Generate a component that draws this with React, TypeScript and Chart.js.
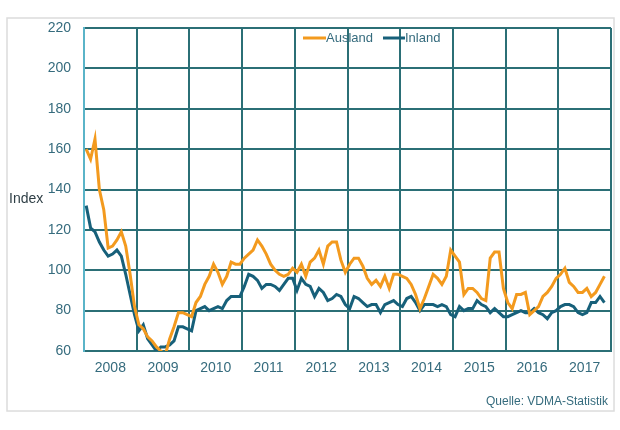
import React, { useEffect, useRef } from "react";
import { Chart, registerables } from "chart.js";

Chart.register(...registerables);

const years = ["2008", "2009", "2010", "2011", "2012", "2013", "2014", "2015", "2016", "2017"];

// monthly index values, Jan 2008 .. Nov 2017
const ausland = [
  160, 155, 165, 140, 130, 111, 112, 115, 119, 112, 98, 82,
  73, 71, 67, 65, 62, 60, 58, 66, 72, 79, 79, 78,
  77, 84, 87, 93, 97, 103, 99, 93, 97, 104, 103, 103,
  106, 108, 110, 115, 112, 108, 103, 100, 98, 97, 98, 101,
  99, 103, 97, 104, 106, 110, 103, 112, 114, 114, 105, 99,
  103, 106, 106, 102, 96, 93, 95, 92, 97, 91, 98, 98,
  97, 96, 93, 88, 81, 86, 92, 98, 96, 93, 97, 110,
  107, 104, 88, 91, 91, 89, 86, 85, 106, 109, 109, 91,
  84, 81, 88, 88, 89, 78, 80, 82, 87, 89, 92, 96,
  98, 101, 94, 92, 89, 89, 91, 87, 89, 93, 97,
];

const inland = [
  132, 121, 119, 114, 110, 107, 108, 110, 107, 98, 88, 78,
  70, 73, 66, 63, 60, 62, 62, 63, 65, 72, 72, 71,
  70, 80, 81, 82, 80, 81, 82, 81, 85, 87, 87, 87,
  92, 98, 97, 95, 91, 93, 93, 92, 90, 93, 96, 96,
  90, 96, 93, 92, 87, 91, 89, 85, 86, 88, 87, 83,
  81, 87, 86, 84, 82, 83, 83, 79, 83, 84, 85, 83,
  82, 86, 87, 84, 80, 83, 83, 83, 82, 83, 82, 78,
  77, 82, 80, 81, 81, 85, 83, 82, 79, 81, 79, 77,
  77, 78, 79, 80, 79, 79, 81, 79, 78, 76, 79, 80,
  82, 83, 83, 82, 79, 78, 79, 84, 84, 87, 84,
];

const seriesNames = ["Ausland", "Inland"];
const yMin = 60;
const yMax = 220;
const yStep = 20;
const yTitle = "Index";
const sourceText = "Quelle: VDMA-Statistik";

const ORANGE = "#f39a1e";
const DARKTEAL = "#17607a";
const GRID = "#2b6f76";
const TEXT = "#356b7d";
const FONT = "'Liberation Sans', Arial, sans-serif";

const toPoints = (arr: number[]) => arr.map((v, i) => ({ x: i + 0.5, y: v }));

const decorPlugin = {
  id: "decor",
  beforeDraw(chart: any) {
    const ctx = chart.ctx;
    ctx.save();
    ctx.fillStyle = "#ffffff";
    ctx.fillRect(0, 0, chart.width, chart.height);
    ctx.strokeStyle = "#dcdcdc";
    ctx.lineWidth = 1.5;
    ctx.strokeRect(7, 18, 607, 393);
    ctx.restore();
  },
  beforeDatasetsDraw(chart: any) {
    const ctx = chart.ctx;
    ctx.save();
    ctx.font = `13px ${FONT}`;
    ctx.textBaseline = "middle";
    ctx.textAlign = "left";
    const y = 38;
    ctx.strokeStyle = ORANGE;
    ctx.lineWidth = 3;
    ctx.beginPath();
    ctx.moveTo(303, y);
    ctx.lineTo(326, y);
    ctx.stroke();
    ctx.fillStyle = TEXT;
    ctx.fillText(seriesNames[0], 326, y);
    ctx.strokeStyle = DARKTEAL;
    ctx.beginPath();
    ctx.moveTo(383, y);
    ctx.lineTo(405, y);
    ctx.stroke();
    ctx.fillText(seriesNames[1], 405, y);
    ctx.restore();
  },
  afterDraw(chart: any) {
    const ctx = chart.ctx;
    ctx.save();
    ctx.font = `14px ${FONT}`;
    ctx.fillStyle = "#2f3f46";
    ctx.textBaseline = "middle";
    ctx.textAlign = "left";
    ctx.fillText(yTitle, 9, 199);
    ctx.font = `12px ${FONT}`;
    ctx.fillStyle = TEXT;
    ctx.textAlign = "right";
    ctx.fillText(sourceText, 608, 402);
    ctx.restore();
  },
};

export default function App() {
  const ref = useRef<HTMLCanvasElement | null>(null);

  useEffect(() => {
    if (!ref.current) return;
    const chart = new Chart(ref.current, {
      type: "line",
      data: {
        datasets: [
          {
            label: seriesNames[0],
            data: toPoints(ausland),
            borderColor: ORANGE,
            backgroundColor: ORANGE,
            borderWidth: 3,
            pointRadius: 0,
            tension: 0,
          },
          {
            label: seriesNames[1],
            data: toPoints(inland),
            borderColor: DARKTEAL,
            backgroundColor: DARKTEAL,
            borderWidth: 3,
            pointRadius: 0,
            tension: 0,
          },
        ],
      },
      options: {
        responsive: false,
        animation: false,
        devicePixelRatio: 1,
        layout: { padding: { left: 0, top: 28, right: 6, bottom: 0 } },
        plugins: {
          legend: { display: false },
          tooltip: { enabled: false },
        },
        scales: {
          x: {
            type: "linear",
            min: 0,
            max: years.length * 12,
            afterFit: (s: any) => {
              s.height = 79;
            },
            ticks: {
              stepSize: 6,
              autoSkip: false,
              maxRotation: 0,
              padding: 9,
              color: TEXT,
              font: { family: FONT, size: 14 },
              callback: (v: any) => {
                const n = Number(v);
                if (n % 12 === 6) return years[(n - 6) / 12];
                return "";
              },
            },
            grid: {
              drawTicks: false,
              lineWidth: 2,
              color: (c: any) =>
                c.tick && c.tick.value % 12 === 0 ? GRID : "rgba(0,0,0,0)",
            },
            border: { color: GRID, width: 2 },
          },
          y: {
            min: yMin,
            max: yMax,
            afterFit: (s: any) => {
              s.width = 84;
            },
            ticks: {
              stepSize: yStep,
              padding: 13,
              color: TEXT,
              font: { family: FONT, size: 14 },
            },
            grid: {
              drawTicks: false,
              lineWidth: 2,
              color: GRID,
            },
            border: { color: "#5ab4c8", width: 2 },
          },
        },
      },
      plugins: [decorPlugin],
    });
    return () => chart.destroy();
  }, []);

  return (
    <div
      style={{
        position: "fixed",
        left: 0,
        top: 0,
        width: 620,
        height: 430,
        background: "#ffffff",
      }}
    >
      <canvas ref={ref} width={620} height={430} />
    </div>
  );
}
